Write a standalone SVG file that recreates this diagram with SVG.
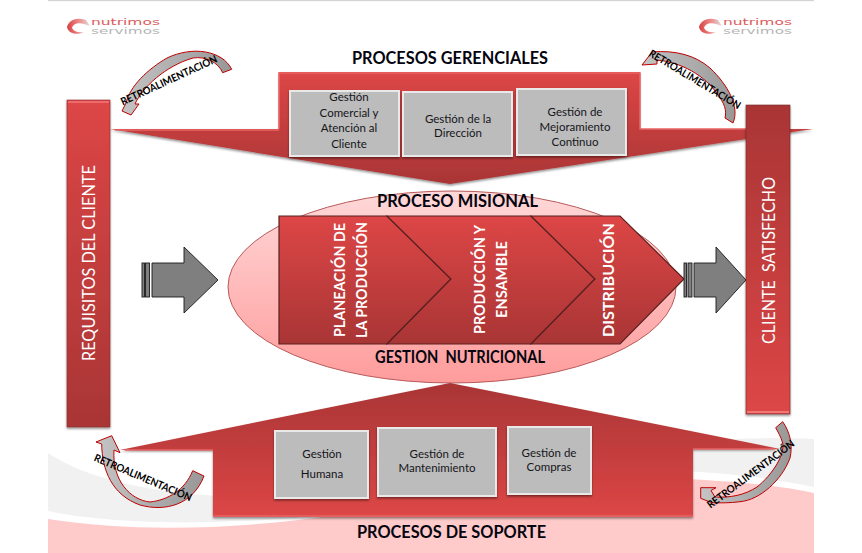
<svg xmlns="http://www.w3.org/2000/svg" width="862" height="553" viewBox="0 0 862 553">
<style>
text{font-family:Lato,"Liberation Sans",sans-serif}
.title{font-size:16.5px;font-weight:700;fill:#05050f;text-anchor:middle;white-space:pre}
.box{font-size:11.5px;fill:#15151a;text-anchor:middle}
.col{font-size:16.5px;fill:#fff;text-anchor:middle;white-space:pre}
.chev{font-size:14.5px;font-weight:700;fill:#fff;text-anchor:middle}
.retro{font-size:10.5px;font-weight:700;fill:#000;text-anchor:middle}
.curve{fill:url(#gc);stroke:#c00000;stroke-width:1}
.block{fill:#7f7f7f;stroke:#1a1a1a;stroke-width:.9}
.bev{fill:none;stroke:#e96464;stroke-width:1.6}
.bevo{fill:#e9e9e9}
.boxi{fill:#bcbcbc}
.chv{stroke:#5a2020;stroke-width:1.2;fill:url(#gd)}
.lgr{font-family:"DejaVu Sans",sans-serif;font-size:8px;fill:#dc5a5a}
.lgg{font-family:"DejaVu Sans",sans-serif;font-size:8px;fill:#b5b5b5}
</style>
<defs>
<linearGradient id="gd" x1="0" y1="0" x2="0" y2="1"><stop offset="0" stop-color="#dd4646"/><stop offset="1" stop-color="#a93535"/></linearGradient>
<linearGradient id="gu" x1="0" y1="0" x2="0" y2="1"><stop offset="0" stop-color="#a93535"/><stop offset="1" stop-color="#dd4646"/></linearGradient>
<linearGradient id="ge" x1="0" y1="0" x2="0" y2="1"><stop offset="0" stop-color="#ffd8d8"/><stop offset="1" stop-color="#ff9c9c"/></linearGradient>
<linearGradient id="gc" x1="0" y1="0" x2="1" y2="0"><stop offset="0" stop-color="#c4c4c4"/><stop offset="1" stop-color="#989898"/></linearGradient>
<linearGradient id="gl" x1="0" y1="0" x2="1" y2="0"><stop offset="0" stop-color="#d84040"/><stop offset=".5" stop-color="#e88"/><stop offset="1" stop-color="#ddd"/></linearGradient>
<filter id="sh" x="-10%" y="-10%" width="120%" height="125%"><feDropShadow dx="0" dy="1.5" stdDeviation="1" flood-color="#000" flood-opacity=".45"/></filter>
</defs>

<rect width="862" height="553" fill="#fff"/>
<rect x="48" y="0" width="766" height="1.2" fill="#d4d4d4"/>

<g id="background">
<path d="M48,453C85,478 150,494 240,497C400,490 640,430 814,439V487C760,476 700,470 640,470C500,470 380,518 240,521C160,525 90,520 48,511Z" fill="#f1f1f1"/>
<path d="M48,519C130,532 230,530 330,516C450,498 570,476 660,478C720,480 770,484 814,493V553H48Z" fill="#fecaca"/>
</g>

<g id="logo-left">
<path d="M67,27C69,19 78,17 86,20L90,26L84,24C78,22 73,24 72,28C74,32 79,33 84,32C76,36 68,33 67,27Z" fill="url(#gl)"/>
<text class="lgr" x="91" y="24.500" textLength="69" lengthAdjust="spacingAndGlyphs">nutrimos</text>
<text class="lgg" x="91" y="33.800" textLength="69" lengthAdjust="spacingAndGlyphs">servimos</text>
</g>
<g id="logo-right">
<path d="M699,27C701,19 710,17 718,20L722,26L716,24C710,22 705,24 704,28C706,32 711,33 716,32C708,36 700,33 699,27Z" fill="url(#gl)"/>
<text class="lgr" x="723" y="24.500" textLength="69" lengthAdjust="spacingAndGlyphs">nutrimos</text>
<text class="lgg" x="723" y="33.800" textLength="69" lengthAdjust="spacingAndGlyphs">servimos</text>
</g>

<g id="procesos-gerenciales">
<text class="title" x="450" y="63.500" textLength="196" lengthAdjust="spacingAndGlyphs">PROCESOS GERENCIALES</text>
<path d="M110,129H279V72H640V129H813L450,184Z" fill="url(#gd)" filter="url(#sh)"/>
<path class="bev" d="M279,129V73H640V129H746"/>
<path class="bev" d="M115,130H279"/>
</g>

<g id="proceso-misional">
<ellipse cx="452" cy="287" rx="224" ry="96" fill="url(#ge)" stroke="#b85a5a" stroke-width="1"/>
<text class="title" x="457.500" y="207" textLength="161" lengthAdjust="spacingAndGlyphs">PROCESO MISIONAL</text>
<text class="title" x="460" y="363" textLength="170" lengthAdjust="spacingAndGlyphs">GESTION  NUTRICIONAL</text>
</g>

<g id="requisitos-del-cliente">
<rect x="67" y="100" width="43" height="327" fill="url(#gd)" stroke="#8a2c2c" stroke-width=".6" filter="url(#sh)"/>
<rect x="68" y="101" width="41" height="2" fill="#ef6a6a"/>
<text class="col" transform="translate(94.500,263) rotate(-90)" textLength="196" lengthAdjust="spacingAndGlyphs">REQUISITOS DEL CLIENTE</text>
</g>

<g id="cliente-satisfecho">
<rect x="746" y="105" width="44" height="309" fill="url(#gu)" stroke="#7a2828" stroke-width=".6" filter="url(#sh)"/>
<rect x="747" y="411" width="42" height="2" fill="#f27878"/>
<text class="col" transform="translate(775,260.500) rotate(-90)" textLength="167" lengthAdjust="spacingAndGlyphs">CLIENTE  SATISFECHO</text>
</g>

<g id="gestion-comercial">
<g filter="url(#sh)"><rect class="bevo" x="289" y="90" width="111" height="67"/><rect class="boxi" x="291" y="92" width="107" height="63"/></g>
<text class="box" x="349" y="101">Gestión</text><text class="box" x="349" y="117">Comercial y</text><text class="box" x="349" y="132">Atención al</text><text class="box" x="349" y="148">Cliente</text>
</g>
<g id="gestion-direccion">
<g filter="url(#sh)"><rect class="bevo" x="402" y="91" width="111" height="66"/><rect class="boxi" x="404" y="93" width="107" height="62"/></g>
<text class="box" x="458" y="123">Gestión de la</text><text class="box" x="458" y="137">Dirección</text>
</g>
<g id="gestion-mejoramiento">
<g filter="url(#sh)"><rect class="bevo" x="516" y="88" width="111" height="68"/><rect class="boxi" x="518" y="90" width="107" height="64"/></g>
<text class="box" x="575" y="116">Gestión de</text><text class="box" x="575" y="131">Mejoramiento</text><text class="box" x="575" y="146">Continuo</text>
</g>

<g id="planeacion">
<path class="chv" d="M279,216H387L451,279L387,344H279Z"/>
<text class="chev" transform="translate(345,280) rotate(-90)" textLength="114" lengthAdjust="spacingAndGlyphs">PLANEACIÓN DE</text>
<text class="chev" transform="translate(367,280) rotate(-90)" textLength="116" lengthAdjust="spacingAndGlyphs">LA PRODUCCIÓN</text>
</g>
<g id="produccion">
<path class="chv" d="M387,216H531L595,279L531,344H387L451,279Z"/>
<text class="chev" transform="translate(485,279.500) rotate(-90)" textLength="109" lengthAdjust="spacingAndGlyphs">PRODUCCIÓN Y</text>
<text class="chev" transform="translate(507,279.500) rotate(-90)" textLength="77" lengthAdjust="spacingAndGlyphs">ENSAMBLE</text>
</g>
<g id="distribucion">
<path class="chv" d="M531,216H620L684,279L620,344H531L595,279Z"/>
<text class="chev" style="font-size:16px" transform="translate(613.500,280) rotate(-90)" textLength="114" lengthAdjust="spacingAndGlyphs">DISTRIBUCIÓN</text>
</g>

<g id="procesos-de-soporte">
<path d="M120,450L450,383L780,449H693V517H213V450Z" fill="url(#gu)" filter="url(#sh)"/>
<path class="bev" d="M125,450H213"/><path class="bev" d="M693,449H775"/>
<path class="bev" d="M213,516H693"/>
<text class="title" x="451.500" y="538" textLength="189" lengthAdjust="spacingAndGlyphs">PROCESOS DE SOPORTE</text>
</g>

<g id="gestion-humana">
<g filter="url(#sh)"><rect class="bevo" x="274" y="430" width="95" height="69"/><rect class="boxi" x="276" y="432" width="91" height="65"/></g>
<text class="box" x="322" y="458">Gestión</text><text class="box" x="322" y="478">Humana</text>
</g>
<g id="gestion-mantenimiento">
<g filter="url(#sh)"><rect class="bevo" x="377" y="427" width="120" height="70"/><rect class="boxi" x="379" y="429" width="116" height="66"/></g>
<text class="box" x="437" y="458">Gestión de</text><text class="box" x="437" y="472">Mantenimiento</text>
</g>
<g id="gestion-compras">
<g filter="url(#sh)"><rect class="bevo" x="507" y="426" width="85" height="69"/><rect class="boxi" x="509" y="428" width="81" height="65"/></g>
<text class="box" x="549" y="457">Gestión de</text><text class="box" x="549" y="471">Compras</text>
</g>

<g id="connectors">
<g id="arrow-in">
<rect class="block" x="142" y="263" width="2.500" height="34"/><rect class="block" x="145.500" y="263" width="4" height="34"/>
<path class="block" d="M152,263H184V247L218,280L184,313V297H152Z"/>
</g>
<g id="arrow-out">
<rect class="block" x="684" y="263" width="2.500" height="34"/><rect class="block" x="688" y="263" width="4" height="34"/>
<path class="block" d="M694,263H716V247L746,280L716,313V297H694Z"/>
</g>
<path class="curve" d="M231.700,69.300C222,50 192,46 167,58C148,69 130,86 126,103L122,111L131,115L139,104H135C142,88 165,66 193,58C205,56 218,62 222.700,72.700Z"/>
<text class="retro" transform="translate(170.500,83.500) rotate(-24.700)" textLength="105" lengthAdjust="spacingAndGlyphs">RETROALIMENTACIÓN</text>
<path class="curve" d="M733,123C740,107 728,85 710,68C695,55 675,50 652,52L642,65L657,64V60C680,62 705,75 718,95C724,103 727,110 725,118Z"/>
<text class="retro" transform="translate(693,82.500) rotate(31)" textLength="105" lengthAdjust="spacingAndGlyphs">RETROALIMENTACIÓN</text>
<path class="curve" d="M111.700,435.700L96,442L101.700,444C102,470 112,495 140,505C165,512 193,505 204,476L192.700,470.700C185,490 168,500 150,502C130,500 112,480 114,450L120,452.700Z"/>
<text class="retro" transform="translate(141.500,481) rotate(23)" textLength="105" lengthAdjust="spacingAndGlyphs">RETROALIMENTACIÓN</text>
<path class="curve" d="M775.700,427.700L782.700,421.700C790,432 793,445 790,458C782,480 760,500 740,501.700C730,503 720,503 711.700,502.700L700.700,498.300V487.700H716L711,490.500L715,497C730,498 745,495 757,487C772,475 785,455 782.700,443C781,437 778,432 775.700,427.700Z"/>
<text class="retro" transform="translate(753,477) rotate(-36.800)" textLength="106" lengthAdjust="spacingAndGlyphs">RETROALIMENTACIÓN</text>
</g>
</svg>
